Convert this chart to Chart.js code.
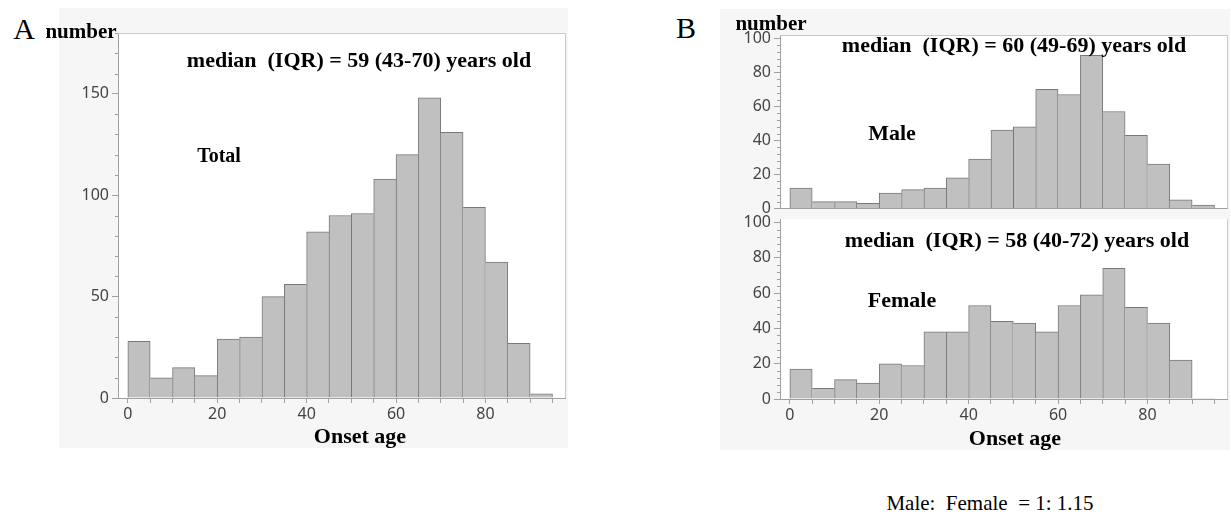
<!DOCTYPE html>
<html><head><meta charset="utf-8">
<script src="https://cdn.jsdelivr.net/npm/chart.js@4.4.1/dist/chart.umd.min.js"></script>
<style>
html,body{margin:0;padding:0;background:#fff;}
body{width:1231px;height:517px;overflow:hidden;position:relative;}
.panel{position:absolute;background:#f6f6f6;}
.cv{position:absolute;}
.t{position:absolute;white-space:pre;line-height:1;transform:translate(-50%,-50%);font-family:"Liberation Serif","Times New Roman",serif;color:#000;}
.b{font-weight:bold;}
</style></head>
<body>
<div class="panel" style="left:59px;top:8px;width:509px;height:440px"></div>
<div class="panel" style="left:720px;top:9px;width:510px;height:441px"></div>

<div class="cv" style="left:59px;top:8px;width:509px;height:440px"><canvas id="cA"></canvas></div>
<div class="cv" style="left:720px;top:0px;width:510px;height:221px"><canvas id="cM"></canvas></div>
<div class="cv" style="left:720px;top:200px;width:510px;height:250px"><canvas id="cF"></canvas></div>

<div class="t" style="left:24px;top:29px;font-size:30px">A</div>
<div class="t b" style="left:81px;top:31px;font-size:21px">number</div>
<div class="t b" style="left:359px;top:60px;font-size:22px">median  (IQR) = 59 (43-70) years old</div>
<div class="t b" style="left:219px;top:155px;font-size:20px">Total</div>
<div class="t b" style="left:360px;top:436px;font-size:22px">Onset age</div>

<div class="t" style="left:686px;top:28px;font-size:30px">B</div>
<div class="t b" style="left:771px;top:23px;font-size:21px">number</div>
<div class="t b" style="left:1014px;top:45px;font-size:22px">median  (IQR) = 60 (49-69) years old</div>
<div class="t b" style="left:892px;top:133px;font-size:22px">Male</div>
<div class="t b" style="left:1017px;top:240px;font-size:22px">median  (IQR) = 58 (40-72) years old</div>
<div class="t b" style="left:902px;top:300px;font-size:22px">Female</div>
<div class="t b" style="left:1015px;top:438px;font-size:22px">Onset age</div>
<div class="t" style="left:990px;top:503px;font-size:21px">Male:  Female  = 1: 1.15</div>

<script>
// ---- data ----
const binStarts = [0,5,10,15,20,25,30,35,40,45,50,55,60,65,70,75,80,85,90];
const binWidth = 5;
const totalCounts  = [28,10,15,11,29,30,50,56,82,90,91,108,120,148,131,94,67,27,2];
const maleCounts   = [12,4,4,3,9,11,12,18,29,46,48,70,67,90,57,43,26,5,2];
const femaleCounts = [17,6,11,9,20,19,38,38,53,44,43,38,53,59,74,52,43,22,0];
const xTickValues  = [0,5,10,15,20,25,30,35,40,45,50,55,60,65,70,75,80,85,90,95];
const xLabelTicks  = [0,20,40,60,80];

const X_MIN = -2.2, X_MAX = 97.8;
const tickFont = {family:'"Noto Sans", "DejaVu Sans", sans-serif', size:16};
const axisColor = '#a0a0a0';
const tickColor = '#444444';

const frame = {
  id:'frame',
  beforeDraw(chart){
    const {ctx, chartArea:a} = chart;
    ctx.save(); ctx.fillStyle='#ffffff';
    ctx.fillRect(a.left, a.top, a.right-a.left, a.bottom-a.top);
    ctx.restore();
  },
  afterDraw(chart, args, opts){
    const {ctx, chartArea:a} = chart;
    ctx.save(); ctx.strokeStyle='#c8c8c8'; ctx.lineWidth=1;
    ctx.beginPath();
    const t = Math.round(a.top)+0.5, r = Math.round(a.right)+0.5;
    if (opts.top) { ctx.moveTo(a.left, t); ctx.lineTo(r, t); } else { ctx.moveTo(r, a.top); }
    ctx.lineTo(r, a.bottom);
    ctx.stroke(); ctx.restore();
  }
};

const minor = {
  id:'minor',
  afterDraw(chart, args, opts){
    const ys = chart.scales.y;
    const {ctx} = chart;
    ctx.save(); ctx.strokeStyle = axisColor; ctx.lineWidth = 1;
    const n = Math.floor(ys.max / opts.step);
    for (let k = 0; k <= n; k++) {
      const v = k * opts.step;
      if (v % opts.major === 0) continue;
      const p = Math.round(ys.getPixelForValue(v)) + 0.5;
      ctx.beginPath(); ctx.moveTo(ys.right - 3, p); ctx.lineTo(ys.right, p); ctx.stroke();
    }
    ctx.restore();
  }
};

function bw(c){
  const d = c.dataset.data, i = c.dataIndex;
  if (!d || i == null || !d[i]) return 1;
  const v = d[i].y;
  const p = i > 0 ? d[i-1].y : 0;
  const n = i < d.length-1 ? d[i+1].y : 0;
  return {top:1, bottom:0, left: p <= v ? 1 : 0, right: n < v ? 1 : 0};
}

function makeChart(id, values, cfg){
  return new Chart(document.getElementById(id), {
    type:'bar',
    data:{datasets:[{
      data: binStarts.map((s,i)=>({x: s + binWidth/2, y: values[i]})),
      backgroundColor:'#c0c0c0', borderColor:'#787878',
      borderWidth: bw, borderSkipped:false,
      barPercentage:1, categoryPercentage:1
    }]},
    options:{
      responsive:true, maintainAspectRatio:false, animation:false,
      layout:{padding:{top:cfg.padTop, right:cfg.padRight, left:0, bottom:0}},
      plugins:{legend:{display:false}, tooltip:{enabled:false},
        minor:{step:cfg.minor, major:cfg.major}, frame:{top:cfg.frameTop}},
      scales:{
        x:{type:'linear', min:X_MIN, max:X_MAX, offset:false,
          grid:{offset:false, drawOnChartArea:false, drawTicks:cfg.showX, tickLength:5, color:axisColor},
          border:{color:axisColor},
          afterBuildTicks:s => { s.ticks = xTickValues.map(v => ({value:v})); },
          ticks:{display:cfg.showX, autoSkip:false, maxRotation:0, minRotation:0,
            padding:2, color:tickColor, font:tickFont,
            callback:v => xLabelTicks.includes(v) ? String(v) : ''},
          afterFit:s => { s.height = cfg.xh; }},
        y:{min:0, max:cfg.yMax,
          grid:{drawOnChartArea:false, tickLength:6, color:axisColor},
          border:{color:axisColor},
          ticks:{stepSize:cfg.major, includeBounds:false, padding:3, color:tickColor, font:tickFont},
          afterFit:s => { s.width = cfg.yw; }}
      }
    },
    plugins:[frame, minor]
  });
}

makeChart('cA', totalCounts, {padTop:25, padRight:3, xh:50, yw:59, yMax:180, major:50, minor:10, showX:true, frameTop:true});
makeChart('cM', maleCounts, {padTop:35, padRight:3, xh:4, yw:60, yMax:102, major:20, minor:4, showX:false, frameTop:true});
makeChart('cF', femaleCounts, {padTop:19, padRight:3, xh:51, yw:60, yMax:102, major:20, minor:4, showX:true, frameTop:false});
</script>
</body></html>
